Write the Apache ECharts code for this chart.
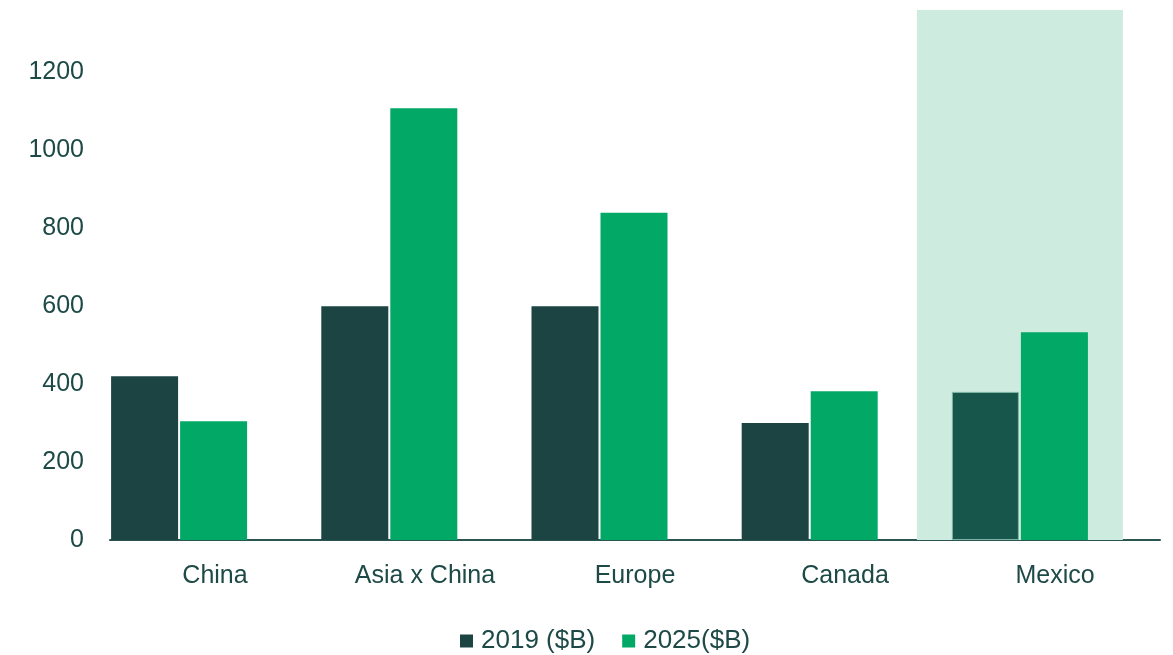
<!DOCTYPE html>
<html>
<head>
<meta charset="utf-8">
<script src="https://cdn.jsdelivr.net/npm/echarts@6/dist/echarts.min.js"></script>
<style>
  html, body { margin: 0; padding: 0; background: #fff; }
  #chart { width: 1173px; height: 655px; }
</style>
</head>
<body>
<div id="chart"></div>
<script>
// data
var categories = ["China", "Asia x China", "Europe", "Canada", "Mexico"];
var values2019 = [420, 600, 600, 300, 380];
var values2025 = [305, 1108, 840, 382, 533];
var highlighted = "Mexico";
var yTicks = [0, 200, 400, 600, 800, 1000, 1200];
var yTop = 1360;

var textColor = "#1d4a46";
var font = "Arial, 'Liberation Sans', sans-serif";

// mark the Mexico 2019 bar a bit lighter like the reference
var bars2019 = values2019.map(function (v, i) {
  if (categories[i] === highlighted) {
    return { value: v, itemStyle: { color: "#17574b", borderColor: "#7fb3a3", borderWidth: 1 } };
  }
  return v;
});
var band = categories.map(function (c) {
  return c === highlighted ? yTop : null;
});

var option = {
  animation: false,
  textStyle: { fontFamily: font },
  legend: {
    data: ["2019 ($B)", "2025($B)"],
    top: 623,
    left: 455,
    icon: "rect",
    itemWidth: 13,
    itemHeight: 13,
    itemGap: 27,
    textStyle: { color: textColor, fontSize: 26, fontFamily: font, padding: [0, 0, 0, 3] },
  },
  grid: [
    // axes (line + labels)
    { left: 110, right: 13, top: 10, bottom: 115 },
    // bars
    { left: 74, right: 48, top: 10, bottom: 115 },
  ],
  xAxis: [
    {
      type: "category",
      gridIndex: 0,
      data: categories,
      axisTick: { show: false },
      axisLine: { show: true, lineStyle: { color: "#2a5550", width: 2 } },
      axisLabel: { color: textColor, fontSize: 25, margin: 24, fontFamily: font },
    },
    { type: "category", gridIndex: 1, data: categories, show: false },
    { type: "category", gridIndex: 1, data: categories, show: false },
  ],
  yAxis: [
    {
      type: "value",
      gridIndex: 0,
      min: yTicks[0],
      max: yTop,
      interval: yTicks[1] - yTicks[0],
      axisLine: { show: false },
      axisTick: { show: false },
      splitLine: { show: false },
      axisLabel: {
        color: textColor,
        fontSize: 25,
        margin: 26,
        showMaxLabel: false,
        fontFamily: font,
        formatter: function (v) { return String(v); },
      },
    },
    { type: "value", gridIndex: 1, min: 0, max: yTop, show: false },
    { type: "value", gridIndex: 1, min: 0, max: yTop, show: false },
  ],
  series: [
    {
      name: "highlight",
      type: "bar",
      xAxisIndex: 2,
      yAxisIndex: 2,
      data: band,
      barWidth: 206,
      itemStyle: { color: "#cdebdf" },
      silent: true,
      z: 1,
    },
    {
      name: "2019 ($B)",
      type: "bar",
      xAxisIndex: 1,
      yAxisIndex: 1,
      data: bars2019,
      barWidth: 67,
      barGap: "3%",
      itemStyle: { color: "#1b4443" },
      z: 2,
    },
    {
      name: "2025($B)",
      type: "bar",
      xAxisIndex: 1,
      yAxisIndex: 1,
      data: values2025,
      barWidth: 67,
      barGap: "3%",
      itemStyle: { color: "#02a866" },
      z: 2,
    },
  ],
};

var myChart = echarts.init(document.getElementById("chart"));
myChart.setOption(option);
</script>
</body>
</html>
